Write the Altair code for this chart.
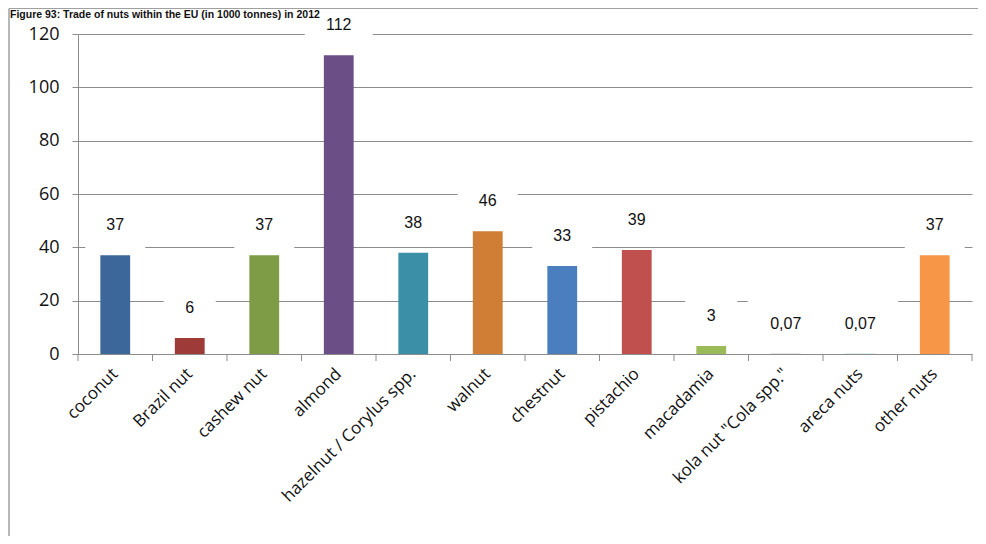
import altair as alt
import pandas as pd

categories = ["coconut", "Brazil nut", "cashew nut", "almond", "hazelnut / Corylus spp.",
              "walnut", "chestnut", "pistachio", "macadamia", 'kola nut "Cola spp."',
              "areca nuts", "other nuts"]
values = [37, 6, 37, 112, 38, 46, 33, 39, 3, 0.07, 0.07, 37]
labels = ["37", "6", "37", "112", "38", "46", "33", "39", "3", "0,07", "0,07", "37"]
colors = ["#3B679B", "#9E3A38", "#7E9C45", "#6B4E86", "#3B8FA6", "#D07D35",
          "#4A7EBF", "#C0504D", "#9BBB59", "#8064A2", "#4BACC6", "#F79646"]
y_ticks = [0, 20, 40, 60, 80, 100, 120]
title_text = "Figure 93: Trade of nuts within the EU (in 1000 tonnes) in 2012"

df = pd.DataFrame({"cat": categories, "value": values, "label": labels})
one = pd.DataFrame({"t": [title_text]})

grid_col = "#8c8c8c"

x_enc = alt.X("cat:N", sort=categories,
              scale=alt.Scale(paddingInner=0.6, paddingOuter=0.3),
              axis=alt.Axis(title=None, labelAngle=-45, labelAlign="right",
                            labelBaseline="middle", labelPadding=17,
                            ticks=False, domainColor=grid_col,
                            labelFont="Open Sans", labelFontSize=17,
                            labelColor="#111111", labelLimit=400))
y_scale = alt.Scale(domain=[0, 120], nice=False)
y_axis = alt.Axis(values=y_ticks, title=None, grid=True, gridColor=grid_col,
                  domainColor=grid_col, tickColor=grid_col, tickSize=6,
                  labelPadding=13, labelFont="Open Sans", labelFontSize=18,
                  labelColor="#111111")

base = alt.Chart(df)

boxes = base.transform_calculate(
    box_lo="datum.value + 2.6",
    box_hi="datum.value + 20.6",
    box_w="length(datum.label) * 8 + 44",
).mark_bar(color="white").encode(
    x=x_enc,
    y=alt.Y("box_lo:Q", scale=y_scale, axis=y_axis),
    y2="box_hi:Q",
    size=alt.Size("box_w:Q", scale=None, legend=None),
)

bars = base.mark_bar().encode(
    x=x_enc,
    y=alt.Y("value:Q", scale=y_scale, axis=y_axis),
    color=alt.Color("cat:N", scale=alt.Scale(domain=categories, range=colors), legend=None),
)

texts = base.mark_text(dy=-30, fontSize=16, font="Liberation Sans", color="#111111",
                       baseline="middle").encode(
    x=x_enc,
    y=alt.Y("value:Q", scale=y_scale, axis=y_axis),
    text="label:N",
)

main = alt.layer(boxes, bars, texts)

# category-boundary ticks on the x axis (Excel style)
ticks = base.mark_rule(color=grid_col, strokeWidth=1).encode(
    x=alt.X("cat:N", sort=categories, bandPosition=0,
            scale=alt.Scale(paddingInner=0, paddingOuter=0), axis=None),
    y=alt.value(320), y2=alt.value(327),
)
end_tick = alt.Chart(one).mark_rule(color=grid_col, strokeWidth=1).encode(
    x=alt.value(894), y=alt.value(320), y2=alt.value(327))

frame_left = alt.Chart(one).mark_rule(color="#a0a0a0", strokeWidth=1.5).encode(
    x=alt.value(-69), y=alt.value(-25.5), y2=alt.value(520))
frame_top = alt.Chart(one).mark_rule(color="#a0a0a0", strokeWidth=1).encode(
    x=alt.value(-69), x2=alt.value(920), y=alt.value(-25.5))

title = alt.Chart(one).mark_text(align="left", baseline="alphabetic", fontSize=10.5,
                                 fontWeight="bold", font="Liberation Sans",
                                 color="#111111").encode(
    x=alt.value(-68), y=alt.value(-16.5), text="t:N")

chart = alt.layer(main, ticks, end_tick, frame_left, frame_top, title).resolve_scale(
    x="independent"
).properties(
    width=894, height=320,
    padding={"left": 70, "top": 26, "right": 6, "bottom": 182},
    autosize=alt.AutoSizeParams(type="none"),
    background="white",
).configure_view(stroke=None)

chart.save("out.html", embed_options={"renderer": "svg", "actions": False})
